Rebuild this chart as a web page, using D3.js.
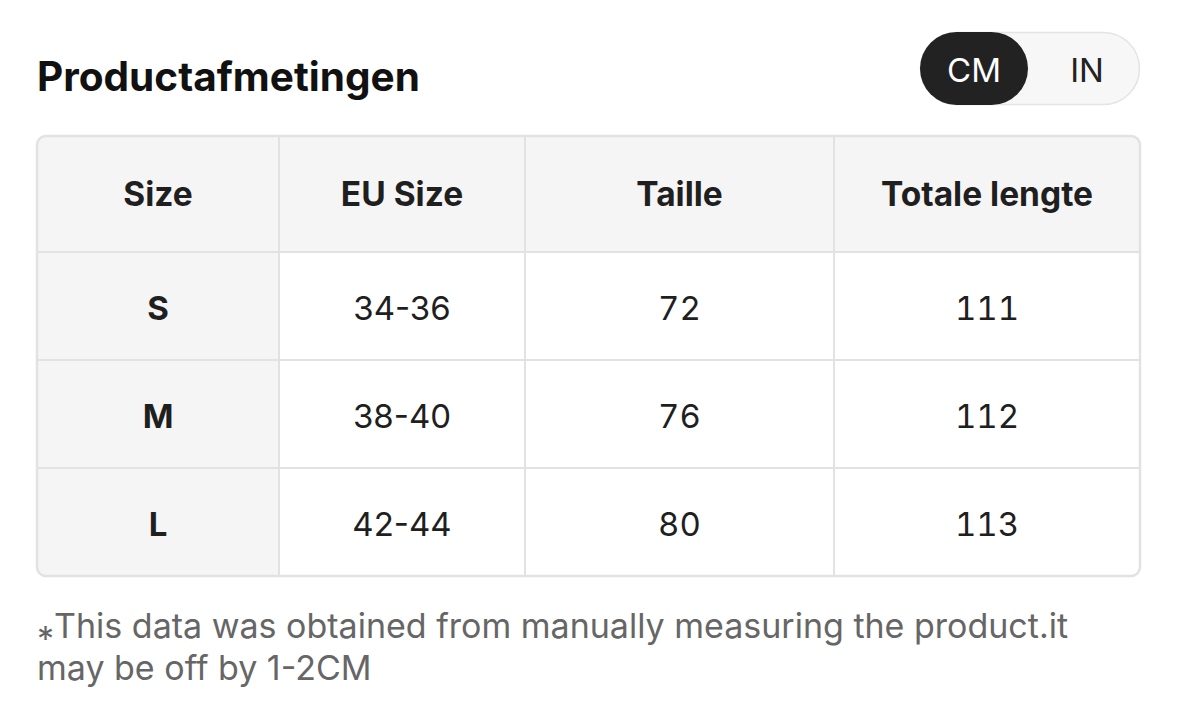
<!DOCTYPE html>
<html>
<head>
<meta charset="utf-8">
<script src="https://cdn.jsdelivr.net/npm/d3@7"></script>
<style>
  html, body { margin: 0; padding: 0; background: #fff; }
  svg { display: block; font-family: Inter, "Noto Sans", sans-serif; }
  .num { font-feature-settings: 'tnum' 1; }
</style>
</head>
<body>
<svg id="chart" width="1178" height="724"></svg>
<script>
// table content
var headers = ['Size', 'EU Size', 'Taille', 'Totale lengte']
var sizes = ['S', 'M', 'L']
var euSizes = ['34-36', '38-40', '42-44']
var taille = [72, 76, 80]
var totaleLengte = [111, 112, 113]
var units = ['CM', 'IN']
var title = 'Productafmetingen'
var note = ['\u204EThis data was obtained from manually measuring the product.it', 'may be off by 1-2CM']

// layout
var tLeft = 37, tRight = 1140, tTop = 136, headH = 116, rowH = 108
var colEdges = [37, 279, 525, 834, 1140]
var border = '#e2e2e2', shade = '#f5f5f5', ink = '#1f1f1f'

var svg = d3.select('#chart')

var rows = sizes.map(function(s, i) {
	return [s, euSizes[i], String(taille[i]), String(totaleLengte[i])]
})

var x = function(j) { return colEdges[j] }
var y = d3.scaleBand().domain(d3.range(rows.length)).range([tTop + headH, tTop + headH + rowH * rows.length])
var tBottom = tTop + headH + rowH * rows.length

svg.append('text')
	.attr('x', 37).attr('y', 91)
	.attr('font-size', 40.5).attr('font-weight', 700).attr('fill', '#111')
	.text(title)

// unit toggle
var tog = svg.append('g')
tog.append('rect')
	.attr('x', 920.5).attr('y', 32.5).attr('width', 219).attr('height', 72).attr('rx', 36)
	.attr('fill', '#f7f7f7').attr('stroke', '#e4e4e4').attr('stroke-width', 1.5)
tog.append('rect')
	.attr('x', 920).attr('y', 32).attr('width', 108).attr('height', 73).attr('rx', 36.5)
	.attr('fill', '#222')
tog.selectAll('text').data(units).enter().append('text')
	.attr('x', function(d, i) { return i == 0 ? 974 : 1087 })
	.attr('y', 82)
	.attr('text-anchor', 'middle')
	.attr('font-size', 33)
	.attr('fill', function(d, i) { return i == 0 ? '#fff' : '#222' })
	.text(function(d) { return d })

// clip to rounded table
svg.append('clipPath').attr('id', 'tclip').append('rect')
	.attr('x', tLeft).attr('y', tTop).attr('width', tRight - tLeft).attr('height', tBottom - tTop).attr('rx', 9)

var tbl = svg.append('g').attr('clip-path', 'url(#tclip)')

// header background
tbl.append('rect')
	.attr('x', tLeft).attr('y', tTop).attr('width', tRight - tLeft).attr('height', headH)
	.attr('fill', shade)

// body cells
rows.forEach(function(r, i) {
	tbl.selectAll('.c' + i).data(r).enter().append('rect')
		.attr('class', 'c' + i)
		.attr('x', function(d, j) { return x(j) })
		.attr('y', y(i))
		.attr('width', function(d, j) { return x(j + 1) - x(j) })
		.attr('height', y.bandwidth())
		.attr('fill', function(d, j) { return j == 0 ? shade : '#fff' })
})

// grid lines
tbl.selectAll('.vline').data(colEdges.slice(1, -1)).enter().append('line')
	.attr('x1', function(d) { return d }).attr('x2', function(d) { return d })
	.attr('y1', tTop).attr('y2', tBottom)
	.attr('stroke', border).attr('stroke-width', 2)
tbl.selectAll('.hline').data(d3.range(rows.length)).enter().append('line')
	.attr('x1', tLeft).attr('x2', tRight)
	.attr('y1', function(d) { return y(d) }).attr('y2', function(d) { return y(d) })
	.attr('stroke', border).attr('stroke-width', 2)

svg.append('rect')
	.attr('x', tLeft).attr('y', tTop).attr('width', tRight - tLeft).attr('height', tBottom - tTop).attr('rx', 9)
	.attr('fill', 'none').attr('stroke', border).attr('stroke-width', 2.5)

// header text
svg.selectAll('.head').data(headers).enter().append('text')
	.attr('class', 'head')
	.attr('x', function(d, j) { return (x(j) + x(j + 1)) / 2 })
	.attr('y', tTop + headH / 2 + 12)
	.attr('text-anchor', 'middle')
	.attr('font-size', 33.5).attr('font-weight', 700).attr('fill', ink)
	.text(function(d) { return d })

// body text
rows.forEach(function(r, i) {
	svg.selectAll('.t' + i).data(r).enter().append('text')
		.attr('class', function(d, j) { return j >= 2 ? 't' + i + ' num' : 't' + i })
		.attr('x', function(d, j) { return (x(j) + x(j + 1)) / 2 })
		.attr('y', y(i) + y.bandwidth() / 2 + 14)
		.attr('text-anchor', 'middle')
		.attr('font-size', 33)
		.attr('font-weight', function(d, j) { return j == 0 ? 700 : 400 })
		.attr('fill', ink)
		.text(function(d) { return d })
})

// footnote
svg.selectAll('.note').data(note).enter().append('text')
	.attr('class', 'note')
	.attr('x', 37)
	.attr('y', function(d, i) { return 638 + i * 42 })
	.attr('font-size', 34).attr('fill', '#666')
	.text(function(d) { return d })
</script>
</body>
</html>
